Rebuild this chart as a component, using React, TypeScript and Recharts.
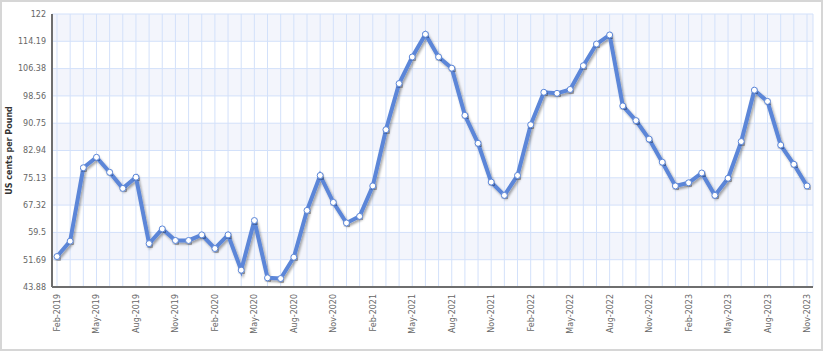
import { LineChart, Line, XAxis, YAxis, CartesianGrid, Label } from 'recharts';

const months = [
  'Feb-2019', 'Mar-2019', 'Apr-2019', 'May-2019', 'Jun-2019', 'Jul-2019', 'Aug-2019', 'Sep-2019', 'Oct-2019', 'Nov-2019', 'Dec-2019',
  'Jan-2020', 'Feb-2020', 'Mar-2020', 'Apr-2020', 'May-2020', 'Jun-2020', 'Jul-2020', 'Aug-2020', 'Sep-2020', 'Oct-2020', 'Nov-2020', 'Dec-2020',
  'Jan-2021', 'Feb-2021', 'Mar-2021', 'Apr-2021', 'May-2021', 'Jun-2021', 'Jul-2021', 'Aug-2021', 'Sep-2021', 'Oct-2021', 'Nov-2021', 'Dec-2021',
  'Jan-2022', 'Feb-2022', 'Mar-2022', 'Apr-2022', 'May-2022', 'Jun-2022', 'Jul-2022', 'Aug-2022', 'Sep-2022', 'Oct-2022', 'Nov-2022', 'Dec-2022',
  'Jan-2023', 'Feb-2023', 'Mar-2023', 'Apr-2023', 'May-2023', 'Jun-2023', 'Jul-2023', 'Aug-2023', 'Sep-2023', 'Oct-2023', 'Nov-2023',
];

const prices = [
  52.6, 57.0, 78.0, 81.0, 76.7, 72.1, 75.3, 56.3, 60.5, 57.2,
  57.2, 58.8, 54.9, 58.8, 48.7, 62.9, 46.5, 46.3, 52.4, 65.8,
  75.8, 68.1, 62.2, 64.1, 72.8, 88.9, 102.1, 109.7, 116.2, 109.7,
  106.5, 93.0, 85.0, 73.9, 70.1, 75.8, 90.3, 99.6, 99.3, 100.4,
  107.2, 113.4, 116.0, 95.7, 91.5, 86.2, 79.6, 72.8, 73.7, 76.5,
  70.1, 75.0, 85.5, 100.2, 97.0, 84.5, 79.0, 72.8,
];

const yTicks = [43.88, 51.69, 59.5, 67.32, 75.13, 82.94, 90.75, 98.56, 106.38, 114.19, 122];

const data = months.map((m, i) => ({ month: m, price: prices[i] }));

const FONT = 'DejaVu Sans, Verdana, sans-serif';
const LINE = '#5b86d8';
const FRAME = '#6e6e6e';

// every month gets a grid line, only every third one gets a label
const MonthTick = ({ x, y, payload, index }: any) => {
  if (index % 3 !== 0) return <g />;
  return (
    <g transform={`translate(${x},${y + 5})`}>
      <text transform="rotate(-90)" textAnchor="end" dy={3} fontSize={8} fill="#666" fontFamily={FONT}>
        {payload.value}
      </text>
    </g>
  );
};

const AxisTitle = ({ viewBox }: any) => {
  const cy = viewBox.y + viewBox.height / 2;
  return (
    <text
      x={12}
      y={cy}
      transform={`rotate(-90, 12, ${cy})`}
      textAnchor="middle"
      fontSize={8}
      fontWeight="bold"
      fill="#333"
      fontFamily={FONT}
    >
      US cents per Pound
    </text>
  );
};

export default function App() {
  return (
    <div style={{ position: 'absolute', left: 0, top: 0, width: 824, height: 352, background: '#fff' }}>
      <div
        style={{
          position: 'absolute', left: 0, top: 0, width: 819, height: 347,
          border: '2px solid #d6d6d6',
        }}
      />
      <div style={{ position: 'absolute', left: 0, top: 0 }}>
        <LineChart width={824} height={352} data={data} margin={{ top: 14, right: 11, bottom: 0, left: 0 }}>
          <defs>
            <filter id="lineShadow" x="-5%" y="-5%" width="110%" height="115%">
              <feDropShadow dx="1.5" dy="2" stdDeviation="1.2" floodColor="#000" floodOpacity="0.35" />
            </filter>
          </defs>
          <CartesianGrid
            stroke="#d3e1fa"
            horizontalFill={['#f3f5fc', '#ffffff']}
            fillOpacity={1}
          />
          <XAxis
            dataKey="month"
            interval={0}
            height={65}
            tickSize={0}
            tickLine={false}
            tick={<MonthTick />}
            padding={{ left: 5, right: 6 }}
            axisLine={{ stroke: FRAME, strokeWidth: 2 }}
          />
          <XAxis
            xAxisId="top"
            dataKey="month"
            orientation="top"
            height={0}
            tick={false}
            tickLine={false}
            axisLine={{ stroke: FRAME, strokeWidth: 2 }}
          />
          <YAxis
            domain={[43.88, 122]}
            ticks={yTicks}
            width={52}
            tickSize={0}
            tickMargin={6}
            tickLine={false}
            interval={0}
            tick={{ fontSize: 8, fill: '#666', fontFamily: FONT }}
            axisLine={{ stroke: FRAME, strokeWidth: 2 }}
          >
            <Label content={<AxisTitle />} />
          </YAxis>
          <YAxis
            yAxisId="right"
            orientation="right"
            domain={[43.88, 122]}
            width={0}
            tick={false}
            tickLine={false}
            axisLine={{ stroke: FRAME, strokeWidth: 2 }}
          />
          <Line
            type="linear"
            dataKey="price"
            stroke={LINE}
            strokeWidth={4}
            filter="url(#lineShadow)"
            dot={{ r: 3, fill: '#fff', stroke: LINE, strokeWidth: 1 }}
            isAnimationActive={false}
          />
        </LineChart>
      </div>
    </div>
  );
}
